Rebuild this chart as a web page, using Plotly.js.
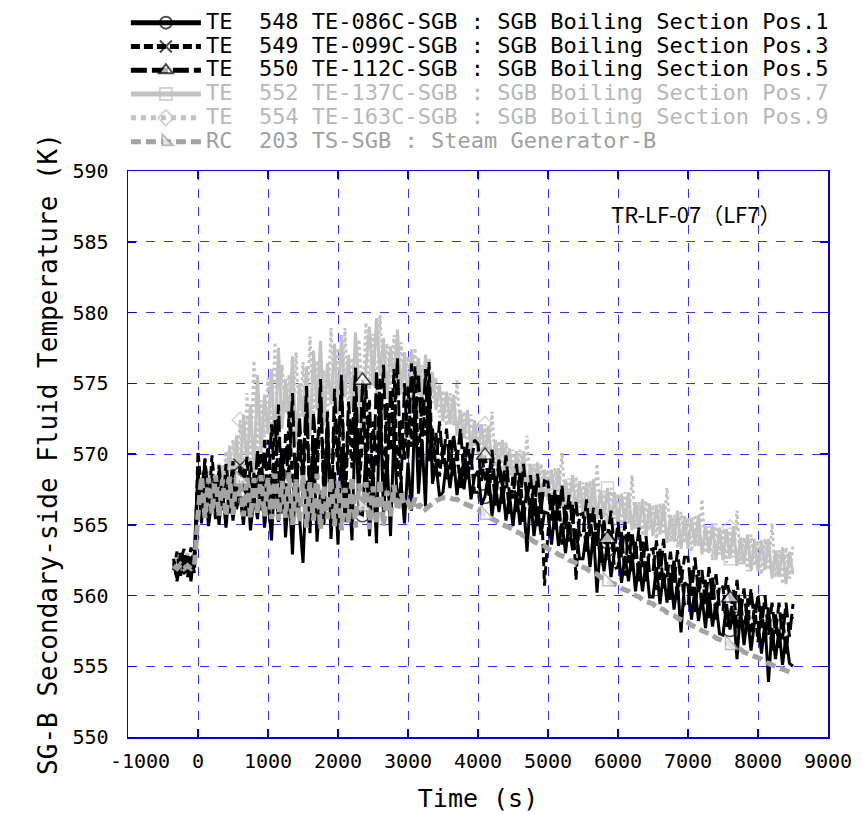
<!DOCTYPE html>
<html><head><meta charset="utf-8">
<script src="https://cdn.plot.ly/plotly-3.0.1.min.js"></script>
<style>html,body{margin:0;padding:0;background:#fff}#chart{width:862px;height:814px}</style>
</head><body><div id="chart"></div>
<script>
const time = [-350,-300,-250,-200,-150,-100,-50,
0,50,100,150,200,250,300,350,400,450,
500,550,600,650,700,750,800,850,900,950,
1000,1050,1100,1150,1200,1250,1300,1350,1400,1450,
1500,1550,1600,1650,1700,1750,1800,1850,1900,1950,
2000,2050,2100,2150,2200,2250,2300,2350,2400,2450,
2500,2550,2600,2650,2700,2750,2800,2850,2900,2950,
3000,3050,3100,3150,3200,3250,3300,3350,3400,3450,
3500,3550,3600,3650,3700,3750,3800,3850,3900,3950,
4000,4050,4100,4150,4200,4250,4300,4350,4400,4450,
4500,4550,4600,4650,4700,4750,4800,4850,4900,4950,
5000,5050,5100,5150,5200,5250,5300,5350,5400,5450,
5500,5550,5600,5650,5700,5750,5800,5850,5900,5950,
6000,6050,6100,6150,6200,6250,6300,6350,6400,6450,
6500,6550,6600,6650,6700,6750,6800,6850,6900,6950,
7000,7050,7100,7150,7200,7250,7300,7350,7400,7450,
7500,7550,7600,7650,7700,7750,7800,7850,7900,7950,
8000,8050,8100,8150,8200,8250,8300,8350,8400,8450,
8500];

const te548 = [562.3,561.2,563.0,561.5,562.8,561.0,563.2,
569.0,565.1,567.9,564.9,566.8,568.4,565.0,567.5,564.8,567.6,
565.3,567.8,567.1,565.0,568.2,564.6,567.0,565.4,568.6,564.8,
567.2,563.9,568.9,565.2,570.4,564.1,567.6,562.9,569.8,565.5,
562.3,568.1,564.4,571.0,563.8,567.4,565.0,572.2,564.0,568.7,
563.6,570.5,565.2,568.0,563.9,573.1,565.8,565.7,570.2,564.2,
568.9,563.7,574.3,565.6,569.8,564.2,571.5,566.3,568.0,565.1,
569.4,566.0,573.5,567.2,571.0,566.3,575.0,567.9,569.3,567.0,
567.3,569.5,567.6,569.7,567.1,569.0,567.5,569.5,566.8,568.4,
568.8,566.4,567.0,568.6,565.6,567.8,565.9,567.8,565.3,567.1,
564.9,567.3,565.0,566.7,563.1,566.9,564.2,566.3,564.3,565.9,
565.8,563.6,566.0,563.5,565.1,563.0,565.2,563.2,564.7,562.6,
562.6,564.5,562.0,564.5,560.2,563.8,561.7,563.8,561.3,563.1,
563.4,560.9,562.8,561.0,563.0,560.3,562.4,560.3,562.4,559.9,
559.9,562.0,559.4,561.6,559.5,561.6,559.0,560.9,557.4,560.9,
560.7,558.3,560.6,558.2,559.9,557.7,560.2,557.8,559.5,557.3,
557.2,559.4,557.6,558.9,555.5,559.0,556.5,558.5,556.1,558.1,
558.1,555.9,558.1,553.9,557.7,555.5,557.6,555.1,557.1,555.2,
555.0];

const te549 = [561.8,563.1,561.4,562.9,561.6,563.4,562.0,
570.2,567.3,569.6,566.1,569.9,567.0,568.8,565.9,569.3,567.2,
569.5,566.4,569.2,567.3,569.8,566.0,568.7,567.5,570.1,566.2,
571.0,566.8,572.4,567.9,570.3,565.4,573.0,568.1,566.3,571.6,
567.0,573.4,565.9,570.8,568.2,574.0,566.4,571.5,564.9,572.7,
568.5,574.6,566.2,572.0,569.0,573.8,567.5,570.9,574.9,566.8,
572.3,569.1,575.4,567.0,573.6,570.2,576.0,568.4,572.5,569.6,
574.8,570.5,576.2,569.2,574.0,571.3,576.5,569.0,571.5,568.4,
570.7,568.2,571.1,568.4,570.3,567.5,570.5,568.2,569.9,567.3,
567.3,570.0,568.4,567.0,569.3,566.3,569.4,566.5,568.6,565.7,
568.5,565.9,568.7,565.2,567.7,565.7,567.9,564.9,567.4,560.7,
564.4,567.1,564.6,567.1,563.6,566.4,563.8,566.4,561.1,565.7,
565.8,563.1,565.8,563.1,565.1,562.3,565.4,562.6,564.6,561.9,
562.0,564.5,561.4,564.6,561.7,563.8,561.0,563.8,561.0,563.2,
563.3,560.4,563.3,560.5,562.4,559.7,562.6,559.7,562.1,559.3,
559.3,561.8,558.8,561.8,559.0,561.1,558.4,561.4,558.3,560.7,
560.6,557.8,558.4,560.4,557.7,559.8,557.2,559.8,556.8,559.4,
556.7,559.3,556.6,559.2,556.1,558.7,556.3,558.7,555.9,558.2,
558.5];

const te550 = [562.6,561.0,562.4,563.3,561.3,562.7,561.6,
568.4,565.9,569.7,566.3,568.6,565.4,569.2,566.7,568.0,565.8,
568.3,566.1,567.2,568.9,565.6,569.5,566.4,570.3,565.9,571.0,
566.5,572.1,567.4,573.5,565.8,571.4,568.6,574.3,566.2,572.6,
568.3,574.8,566.0,572.9,569.4,575.3,567.2,573.0,565.6,574.6,
569.8,575.6,566.9,573.7,570.5,576.1,568.3,575.2,569.0,573.8,
566.4,575.9,570.7,576.3,568.2,574.6,571.2,576.8,567.6,575.0,
569.6,576.4,572.0,575.7,570.4,576.0,569.5,571.8,568.8,572.3,
569.3,571.8,568.9,571.4,569.5,571.8,568.4,570.8,569.1,571.0,
570.7,568.1,569.9,568.1,570.3,567.4,569.6,567.6,569.9,567.1,
566.9,569.3,566.4,569.3,566.7,568.5,565.6,568.6,566.0,568.1,
568.0,565.3,567.5,565.3,567.8,564.7,567.1,565.1,566.6,564.3,
564.2,566.8,564.2,566.2,563.5,566.1,563.6,564.0,566.0,563.1,
565.2,562.7,565.2,562.3,564.5,562.6,564.8,562.0,564.2,561.6,
561.7,563.9,561.1,564.0,561.3,563.1,560.8,563.2,560.9,562.7,
562.7,560.0,562.7,560.1,561.8,559.4,562.0,559.7,561.5,559.1,
559.0,561.3,559.8,558.5,561.1,558.6,560.5,557.9,560.5,558.0,
560.1,557.7,560.0,557.2,559.5,557.3,559.5,556.9,559.5,557.1,
559.4];

const te552 = [562.0,562.9,561.7,562.3,563.0,561.8,562.5,
566.5,568.3,566.0,568.8,566.7,568.1,566.3,569.2,567.0,570.6,
567.6,571.3,568.2,572.8,569.0,573.5,568.7,575.6,570.1,574.2,
571.4,576.0,570.2,577.5,571.8,575.3,572.5,576.9,570.6,575.0,
572.6,576.2,571.3,577.3,573.1,578.0,572.0,576.4,573.5,577.8,
572.8,578.4,574.0,577.0,573.2,578.6,574.5,570.9,576.2,579.0,
574.8,579.6,575.5,578.2,573.9,577.6,575.0,578.8,574.2,577.2,
573.6,577.4,574.9,576.8,573.4,577.0,572.8,575.8,573.1,574.9,
572.3,574.4,572.1,574.2,571.3,573.1,571.1,573.1,570.2,572.4,
570.0,572.1,569.9,572.0,569.1,571.0,569.0,571.0,568.2,570.4,
568.1,570.2,568.1,570.2,567.4,569.3,567.4,569.4,566.7,568.9,
566.7,568.9,566.8,569.0,566.2,568.2,566.4,568.5,565.8,568.1,
565.8,568.0,565.9,568.2,565.4,567.4,565.5,567.6,565.0,567.3,
565.0,567.2,565.1,567.3,564.6,566.6,564.7,566.8,564.1,566.5,
564.2,566.4,564.3,566.5,563.7,565.7,563.8,566.0,563.3,565.6,
563.3,565.5,563.5,565.7,562.9,564.9,563.0,565.1,562.5,564.8,
562.5,564.7,562.6,564.9,562.1,564.1,562.2,564.3,561.7,564.0,
561.7,563.9,561.8,564.0,561.2,563.2,561.3,563.4,560.8,563.1,
561.5];

const te554 = [561.9,562.6,562.2,561.5,562.7,562.1,562.8,
567.8,566.2,569.0,566.6,568.5,565.9,569.4,566.8,570.2,567.5,
571.0,568.0,572.4,567.8,574.3,569.2,576.6,570.0,573.8,571.2,
575.4,571.7,577.9,570.8,576.3,572.9,575.6,571.4,577.2,572.3,
576.5,571.6,578.3,572.7,576.6,573.8,575.9,572.4,578.9,573.2,
577.5,573.6,578.9,572.9,576.8,574.3,578.1,573.8,579.3,574.6,
578.5,574.1,579.8,575.3,577.8,574.6,578.4,573.7,577.9,575.2,
576.9,573.8,577.5,574.2,576.3,572.9,576.8,573.6,575.4,572.6,
574.5,572.0,574.3,572.0,575.2,571.2,573.0,570.5,572.8,570.5,
572.2,569.7,572.1,569.8,573.0,569.1,570.9,568.4,570.8,568.5,
570.3,567.8,570.3,568.0,571.3,567.4,569.3,566.8,569.3,567.0,
568.9,566.5,569.0,566.8,570.1,566.3,568.3,565.9,568.4,566.2,
568.0,565.6,568.1,566.0,569.3,565.5,567.4,565.0,567.6,565.4,
567.2,564.8,567.3,565.1,568.5,564.7,566.6,564.2,566.7,564.6,
566.4,564.0,566.5,564.3,567.6,563.8,565.7,563.4,565.9,563.7,
565.5,563.1,565.7,563.5,566.8,563.0,564.9,562.5,565.1,562.9,
564.7,562.3,564.8,562.7,566.0,562.2,564.1,561.7,564.3,562.1,
563.9,561.5,564.0,561.8,565.1,561.3,563.2,560.8,563.4,561.2,
563.5];

const rc203 = [562.1,561.9,562.2,561.9,562.1,561.9,562.1,
565.7,568.4,565.5,568.3,565.8,568.5,565.6,568.2,565.6,568.4,
565.7,568.3,568.2,565.6,568.4,565.5,568.3,565.8,568.5,565.6,
568.3,565.4,568.6,565.3,568.1,565.5,568.7,565.0,568.2,565.2,
568.5,564.8,568.0,565.3,568.6,564.7,567.8,565.4,568.3,564.9,
568.1,564.6,567.6,565.1,568.4,564.8,567.9,566.3,568.0,564.7,
567.7,565.0,568.2,564.9,567.4,565.6,567.8,566.0,567.2,566.4,
566.6,566.0,566.9,566.2,566.5,566.1,566.3,566.5,566.7,566.8,
566.9,566.9,566.9,566.8,566.8,566.6,566.5,566.4,566.3,566.2,
566.1,565.9,565.7,565.6,565.4,565.3,565.1,565.0,564.9,564.8,
564.6,564.5,564.4,564.2,564.1,564.0,563.8,563.7,563.6,563.5,
563.3,563.2,563.1,562.9,562.8,562.7,562.5,562.4,562.3,562.1,
562.0,561.9,561.7,561.6,561.5,561.3,561.2,561.0,560.9,560.8,
560.7,560.5,560.4,560.3,560.1,560.0,559.9,559.7,559.6,559.5,
559.4,559.2,559.1,559.0,558.8,558.7,558.6,558.4,558.3,558.2,
558.1,557.9,557.8,557.7,557.5,557.4,557.3,557.2,557.0,556.9,
556.8,556.7,556.5,556.4,556.3,556.2,556.0,555.9,555.8,555.7,
555.6,555.5,555.3,555.2,555.1,555.0,554.9,554.8,554.7,554.6,
554.5];

const markerTimes = [600, 2350, 4100, 5850, 7600];

const seriesNames = [
  'TE\u00a0\u00a0548 TE-086C-SGB : SGB Boiling Section Pos.1',
  'TE\u00a0\u00a0549 TE-099C-SGB : SGB Boiling Section Pos.3',
  'TE\u00a0\u00a0550 TE-112C-SGB : SGB Boiling Section Pos.5',
  'TE\u00a0\u00a0552 TE-137C-SGB : SGB Boiling Section Pos.7',
  'TE\u00a0\u00a0554 TE-163C-SGB : SGB Boiling Section Pos.9',
  'RC\u00a0\u00a0203 TS-SGB : Steam Generator-B'
];

const xTickVals = [-1000,0,1000,2000,3000,4000,5000,6000,7000,8000,9000];
const xTickText = ['\u00a0\u00a0-1000','0','1000','2000','3000','4000','5000','6000','7000','8000','9000'];
const yTickVals = [550,555,560,565,570,575,580,585,590];

function sizes(sz){ return time.map(t => markerTimes.indexOf(t) >= 0 ? sz : 0); }
function lbl(name, color){ return '<span style="font-size:22px;color:' + color + '">' + name + '</span>'; }

const LG = '#c2c2c2', MG = '#a3a3a3';

const traces = [
  {x: time, y: te552, name: lbl(seriesNames[3], '#b8b8b8'), legendrank: 4, mode: 'lines+markers',
   line: {color: LG, width: 3, simplify: false}, marker: {symbol: 'square-open', color: LG, size: sizes(12), line:{width:1.5}}},
  {x: time, y: te554, name: lbl(seriesNames[4], '#b8b8b8'), legendrank: 5, mode: 'lines+markers',
   line: {color: LG, width: 3, dash: 'dot', simplify: false}, marker: {symbol: 'diamond-open', color: LG, size: sizes(12), line:{width:1.5}}},
  {x: time, y: te548, name: lbl(seriesNames[0], '#000'), legendrank: 1, mode: 'lines+markers',
   line: {color: '#000', width: 3, simplify: false}, marker: {symbol: 'circle-open', color: '#000', size: sizes(14), line:{width:1.5}}},
  {x: time, y: te549, name: lbl(seriesNames[1], '#000'), legendrank: 2, mode: 'lines+markers',
   line: {color: '#000', width: 3, dash: '9px,4px', simplify: false}, marker: {symbol: 'x-thin-open', color: '#000', size: sizes(13), line:{width:1.5}}},
  {x: time, y: te550, name: lbl(seriesNames[2], '#000'), legendrank: 3, mode: 'lines+markers',
   line: {color: '#000', width: 3, dash: '16px,5px', simplify: false}, marker: {symbol: 'triangle-up', color: '#fff', size: sizes(15), line:{color:'#000', width:1.5}}},
  {x: time, y: rc203, name: lbl(seriesNames[5], '#a0a0a0'), legendrank: 6, mode: 'lines+markers',
   line: {color: MG, width: 5, dash: '10px,5px', simplify: false}, marker: {symbol: 'triangle-sw', color: '#fff', size: sizes(15), line:{color: MG, width:1.5}}}
];

const axisCommon = {
  showline: true, linecolor: '#0000e0', linewidth: 1.5, mirror: 'ticks', automargin: false,
  ticks: 'inside', ticklen: 8, tickwidth: 1.5, tickcolor: '#0000e0',
  showgrid: true, gridcolor: '#3535f5', gridwidth: 1, griddash: 'dash',
  zeroline: false, tickfont: {family: 'DejaVu Sans Mono', size: 20, color: '#000'}
};

const layout = {
  width: 862, height: 814,
  margin: {l: 128, r: 34, t: 171, b: 77, autoexpand: false},
  paper_bgcolor: '#fff', plot_bgcolor: '#fff',
  showlegend: true,
  legend: {x: -0.003, y: 1.292, xanchor: 'left', yanchor: 'top',
    font: {family: 'DejaVu Sans Mono', size: 16, color: '#000'}, itemwidth: 70, itemsizing: 'constant',
    bgcolor: 'rgba(0,0,0,0)', tracegroupgap: 0, traceorder: 'normal'},
  xaxis: Object.assign({}, axisCommon, {range: [-1000, 9000], tickmode: 'array', tickvals: xTickVals, ticktext: xTickText,
    ticklabelstandoff: 5,
    title: {text: 'Time (s)', font: {family: 'DejaVu Sans Mono', size: 25, color: '#000'}, standoff: 18}}),
  yaxis: Object.assign({}, axisCommon, {range: [550, 590], tickmode: 'array', tickvals: yTickVals,
    ticklabelstandoff: 14,
    title: {text: 'SG-B Secondary-side Fluid Temperature (K)', font: {family: 'DejaVu Sans Mono', size: 26, color: '#000'}, standoff: 7}}),
  annotations: [{xref: 'paper', yref: 'paper', x: 0.812, y: 0.926, xanchor: 'center', yanchor: 'middle', showarrow: false,
    text: 'TR-LF-07（LF7）', font: {family: 'Noto Sans CJK JP', size: 22, color: '#000'}}]
};

Plotly.newPlot('chart', traces, layout, {displayModeBar: false, staticPlot: true});
</script></body></html>
